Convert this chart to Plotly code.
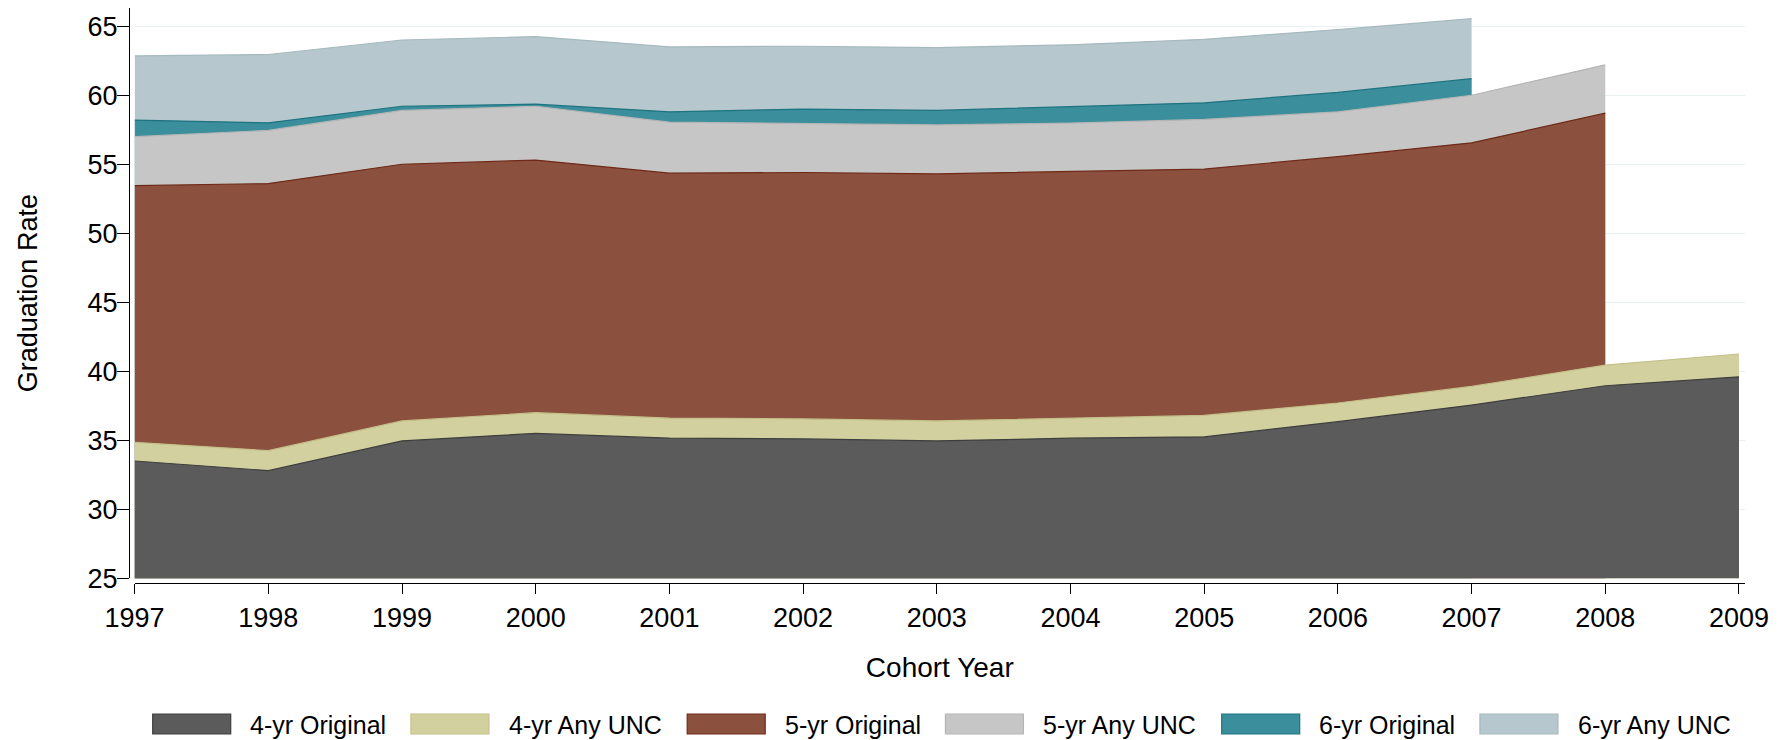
import plotly.graph_objects as go

years = list(range(1997, 2010))

four_original = [33.5, 32.8, 34.95, 35.5, 35.15, 35.1, 34.95, 35.15, 35.25, 36.35, 37.55, 38.95, 39.6]
four_any_unc = [34.85, 34.25, 36.4, 37.0, 36.6, 36.55, 36.4, 36.6, 36.8, 37.7, 38.9, 40.45, 41.25]
five_original = [53.45, 53.6, 55.0, 55.3, 54.35, 54.4, 54.3, 54.45, 54.65, 55.55, 56.55, 58.7]
five_any_unc = [57.0, 57.45, 58.9, 59.2, 58.05, 57.95, 57.85, 57.98, 58.25, 58.8, 60.0, 62.2]
six_original = [58.2, 58.0, 59.2, 59.35, 58.8, 59.0, 58.9, 59.15, 59.45, 60.2, 61.2]
six_any_unc = [62.85, 62.95, 64.0, 64.25, 63.5, 63.55, 63.45, 63.65, 64.05, 64.75, 65.55]

series_names = ["4-yr Original", "4-yr Any UNC", "5-yr Original",
                "5-yr Any UNC", "6-yr Original", "6-yr Any UNC"]
series_values = [four_original, four_any_unc, five_original,
                 five_any_unc, six_original, six_any_unc]
fill_colors = ["#5b5b5b", "#d3d09f", "#8b503e", "#c6c6c6", "#3b8e9b", "#b6c7cd"]
line_colors = ["#3e3e3e", "#c4c08a", "#6e2a16", "#b5b5b5", "#1e7380", "#a6b9c0"]

x_ticks = list(range(1997, 2010))
y_ticks = [25, 30, 35, 40, 45, 50, 55, 60, 65]

FONT = "Liberation Sans, Arial, sans-serif"

fig = go.Figure()
# draw largest first (behind), smallest last (front)
for name, vals, fc, lc in reversed(list(zip(series_names, series_values, fill_colors, line_colors))):
    fig.add_trace(go.Scatter(
        x=years[:len(vals)], y=vals, name=name,
        mode="lines", fill="tozeroy", fillcolor=fc,
        line=dict(color=lc, width=1.2),
        hoverinfo="x+y+name", showlegend=False,
    ))

# the page body has an 8px default margin; size the figure to fit the window
PAGE_OFF = 8
W, H = 1788 - PAGE_OFF, 740 - PAGE_OFF
ml, mr, mt, mb = 121, 43, 0, 157
plot_w = W - ml - mr
plot_h = H - mt - mb


def px_to_paper_x(page_px):
    return (page_px - PAGE_OFF - ml) / plot_w


def px_to_paper_y(page_py):
    return (H - mb - (page_py - PAGE_OFF)) / plot_h


# Arial / Liberation Sans advance widths (em) for the legend characters
EM = {'4': .556, '5': .556, '6': .556, '-': .333, 'y': .5, 'r': .333, ' ': .278,
      'O': .778, 'i': .222, 'g': .556, 'n': .556, 'a': .556, 'l': .222,
      'A': .667, 'U': .722, 'N': .722, 'C': .722}


def text_width(s, size):
    return sum(EM.get(c, .556) for c in s) * size


# legend (Stata-style boxes below the plot), positions in page pixels
LEG_FONT = 25
box_w, box_h, leg_cy = 78, 20, 724
text_off, item_gap = 95.6, 26.5
x0 = 152.7
for name, fc, lc in zip(series_names, fill_colors, line_colors):
    fig.add_shape(
        type="rect", xref="paper", yref="paper",
        x0=px_to_paper_x(x0), x1=px_to_paper_x(x0 + box_w),
        y0=px_to_paper_y(leg_cy + box_h / 2), y1=px_to_paper_y(leg_cy - box_h / 2),
        fillcolor=fc, line=dict(color=lc, width=1.2),
    )
    fig.add_annotation(
        xref="paper", yref="paper",
        x=px_to_paper_x(x0 + text_off), y=px_to_paper_y(leg_cy + 1),
        xanchor="left", yanchor="middle", showarrow=False,
        text=name, font=dict(family=FONT, size=LEG_FONT, color="black"),
    )
    x0 = x0 + text_off + text_width(name, LEG_FONT) + item_gap

fig.update_layout(
    width=W, height=H,
    margin=dict(l=ml, r=mr, t=mt, b=mb, autoexpand=False),
    paper_bgcolor="white", plot_bgcolor="white",
    font=dict(family=FONT, size=27, color="black"),
    showlegend=False,
    xaxis=dict(
        domain=[5.6 / plot_w, 1], range=[1997, 2009.045],
        anchor="free", position=0, automargin=False,
        tickmode="array", tickvals=x_ticks, ticktext=[str(t) for t in x_ticks],
        ticks="outside", ticklen=10, tickwidth=1.2, tickcolor="black",
        showline=True, linecolor="black", linewidth=1.2,
        showgrid=False, zeroline=False,
        title=dict(text="Cohort Year", font=dict(family=FONT, size=28), standoff=25),
        tickfont=dict(family=FONT, size=27),
    ),
    yaxis=dict(
        domain=[4.7 / plot_h, 1], range=[25, 66.32],
        anchor="free", position=0, automargin=False,
        tickmode="array", tickvals=y_ticks, ticktext=[str(t) for t in y_ticks],
        ticks="outside", ticklen=12, tickwidth=1.2, tickcolor="black",
        showline=True, linecolor="black", linewidth=1.2,
        showgrid=True, gridcolor="#e9f0f2", gridwidth=1,
        zeroline=False, ticklabelstandoff=-6,
        title=dict(text="Graduation Rate", font=dict(family=FONT, size=27), standoff=40),
        tickfont=dict(family=FONT, size=27),
    ),
)

fig.write_html("out.html")
